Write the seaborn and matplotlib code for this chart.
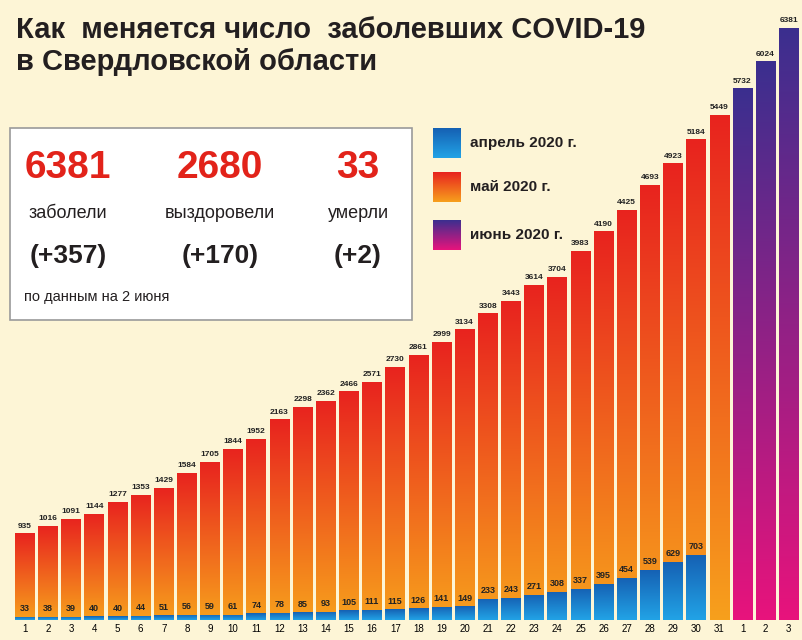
import numpy as np
import pandas as pd
import matplotlib.pyplot as plt
import seaborn as sns
from matplotlib.colors import LinearSegmentedColormap
from matplotlib.patches import FancyBboxPatch

# cumulative cases, May 1-31 then June 1-3
may_cases = [935, 1016, 1091, 1144, 1277, 1353, 1429, 1584, 1705, 1844, 1952, 2163, 2298, 2362,
             2466, 2571, 2730, 2861, 2999, 3134, 3308, 3443, 3614, 3704, 3983, 4190, 4425, 4693,
             4923, 5184, 5449]
june_cases = [5732, 6024, 6381]
# same day in April
april_cases = [33, 38, 39, 40, 40, 44, 51, 56, 59, 61, 74, 78, 85, 93, 105, 111, 115, 126, 141,
               149, 233, 243, 271, 308, 337, 395, 454, 539, 629, 703]
day_labels = [str(d) for d in range(1, 32)] + ["1", "2", "3"]

bg = "#fdf5d6"
font = "Liberation Sans"
cm_may = LinearSegmentedColormap.from_list("may", ["#f7a01c", "#e8231f"])
cm_apr = LinearSegmentedColormap.from_list("apr", ["#22a3e6", "#1560b3"])
cm_jun = LinearSegmentedColormap.from_list("jun", ["#e8137c", "#3b2f8f"])

df = pd.DataFrame({"pos": range(len(day_labels)), "cases": may_cases + june_cases})

fig = plt.figure(figsize=(8.02, 6.4), dpi=100, facecolor=bg)
ax = fig.add_axes([0.015, 0.031, 0.983, 0.925])
ax.set_facecolor(bg)
sns.barplot(data=df, x="pos", y="cases", ax=ax, width=0.85, color="white")
ax.bar(range(len(april_cases)), april_cases, width=0.85, color="white")

grad = np.linspace(0, 1, 256).reshape(-1, 1)
patches = list(ax.patches)
for i, p in enumerate(patches):
    x0, y0, w, h = p.get_x(), p.get_y(), p.get_width(), p.get_height()
    if i < 31:
        cmap = cm_may
    elif i < 34:
        cmap = cm_jun
    else:
        cmap = cm_apr
    p.set_facecolor("none")
    p.set_edgecolor("none")
    im = ax.imshow(grad, cmap=cmap, origin="lower", aspect="auto",
                   extent=[x0, x0 + w, y0, y0 + h], zorder=2)
    im.set_clip_path(p)

for i, v in enumerate(may_cases + june_cases):
    ax.text(i, v + 40, str(v), ha="center", va="bottom", fontsize=6, fontweight="bold",
            fontfamily=font, color="#222222", zorder=3)
for i, v in enumerate(april_cases):
    ax.text(i, v + 40, str(v), ha="center", va="bottom", fontsize=6.5, fontweight="bold",
            fontfamily=font, color="#222222", zorder=3)

ax.set_xlim(-0.55, 33.5)
ax.set_ylim(0, 6381)
ax.set_xticks(range(len(day_labels)))
ax.set_xticklabels(day_labels, fontsize=7, fontfamily=font)
ax.tick_params(axis="x", length=0, pad=3)
ax.set_yticks([])
ax.set_xlabel("")
ax.set_ylabel("")
sns.despine(ax=ax, left=True, bottom=True)

fig.text(0.02, 0.975, "Как  меняется число  заболевших COVID-19\nв Свердловской области",
         ha="left", va="top", fontsize=21, fontweight="bold", color="#231f20",
         fontfamily=font, linespacing=1.2)

# info box
box = FancyBboxPatch((10 / 802, 1 - 320 / 640), 402 / 802, 192 / 640,
                     boxstyle="square,pad=0", transform=fig.transFigure,
                     facecolor="white", edgecolor="#9a9a9a", lw=1.2, zorder=5)
fig.patches.append(box)
cols = [(68, "6381", "заболели", "(+357)"), (220, "2680", "выздоровели", "(+170)"),
        (358, "33", "умерли", "(+2)")]
for cx, big, word, delta in cols:
    fig.text(cx / 802, 1 - 168 / 640, big, ha="center", va="center", fontsize=28,
             fontweight="bold", color="#e2231a", fontfamily=font, zorder=6)
    fig.text(cx / 802, 1 - 214 / 640, word, ha="center", va="center", fontsize=13,
             color="#231f20", fontfamily=font, zorder=6)
    fig.text(cx / 802, 1 - 256 / 640, delta, ha="center", va="center", fontsize=19,
             fontweight="bold", color="#231f20", fontfamily=font, zorder=6)
fig.text(24 / 802, 1 - 297 / 640, "по данным на 2 июня", ha="left", va="center",
         fontsize=10.5, color="#231f20", fontfamily=font, zorder=6)

# legend
leg = [(143, cm_apr, "апрель 2020 г."), (187, cm_may, "май 2020 г."), (235, cm_jun, "июнь 2020 г.")]
for cy, cmap, label in leg:
    lax = fig.add_axes([433 / 802, 1 - (cy + 15) / 640, 28 / 802, 30 / 640])
    lax.imshow(grad, cmap=cmap, origin="lower", aspect="auto")
    lax.axis("off")
    fig.text(470 / 802, 1 - cy / 640, label, ha="left", va="center", fontsize=11,
             fontweight="bold", color="#231f20", fontfamily=font)

fig.savefig("out.png", dpi=100, facecolor=bg)
